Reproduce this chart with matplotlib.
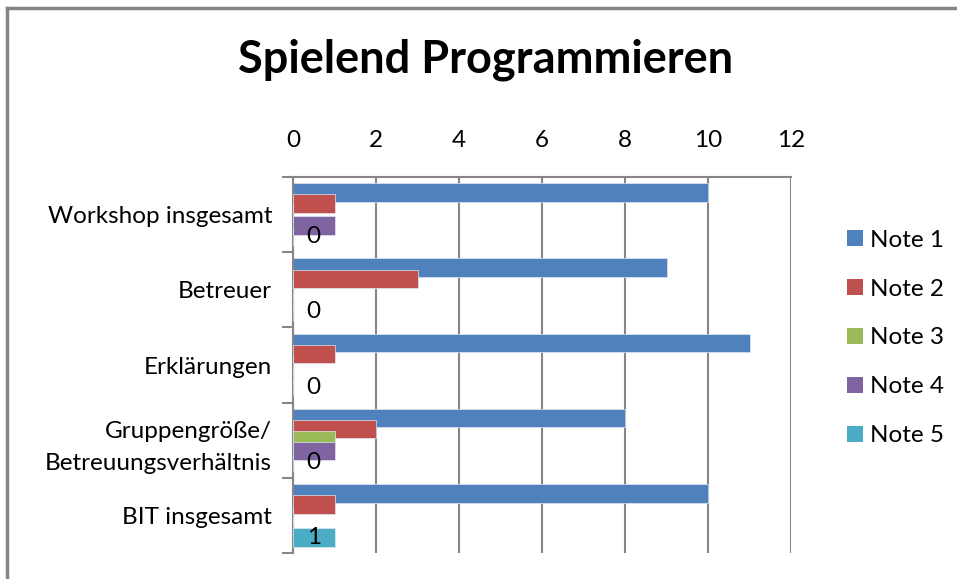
import matplotlib.pyplot as plt
from matplotlib.lines import Line2D
from matplotlib.patches import Patch

plt.rcParams['font.family'] = ['Lato', 'DejaVu Sans']

# daten
kategorien = ['Workshop insgesamt', 'Betreuer', 'Erklärungen',
              'Gruppengröße/\nBetreuungsverhältnis', 'BIT insgesamt']
serien = ['Note 1', 'Note 2', 'Note 3', 'Note 4', 'Note 5']
note1 = [10, 9, 11, 8, 10]
note2 = [1, 3, 1, 2, 1]
note3 = [0, 0, 0, 1, 0]
note4 = [1, 0, 0, 1, 0]
note5 = [0, 0, 0, 0, 1]
farben = ['#4F81BD', '#C0504D', '#9BBB59', '#8064A2', '#4BACC6']
x_ticks = [0, 2, 4, 6, 8, 10, 12]

werte = [note1, note2, note3, note4, note5]
fs = 17.5

fig = plt.figure(figsize=(9.57, 5.79), dpi=100)
ax = fig.add_axes([293/957, 1-553/579, (791-293)/957, (553-177)/579])

abstand = 0.147
hoehe = 0.245
for j, (name, vals) in enumerate(zip(serien, werte)):
    ys = [i + (j - 2) * abstand for i in range(len(kategorien))]
    ax.barh(ys, vals, height=hoehe, color=farben[j], edgecolor='#dfe6f0',
            linewidth=0.5, zorder=2 + j)

# datenbeschriftung nur fuer Note 5
for i, v in enumerate(note5):
    ax.text(max(v, 1) / 2, i + 2 * abstand, str(v), ha='center', va='center',
            fontsize=fs, zorder=10)

ax.set_xlim(0, 12)
ax.set_ylim(len(kategorien) - 0.5, -0.5)
ax.set_xticks(x_ticks)
ax.xaxis.tick_top()
ax.tick_params(axis='x', length=0, pad=19, labelsize=fs)
ax.set_yticks(range(len(kategorien)))
ax.set_yticklabels(kategorien, fontsize=fs, linespacing=1.65)
ax.tick_params(axis='y', length=0, pad=15)
# kategorie-trennstriche
ax.set_yticks([i - 0.5 for i in range(len(kategorien) + 1)], minor=True)
ax.tick_params(axis='y', which='minor', length=8, width=1.5, color='#868686')
ax.grid(axis='x', color='#868686', linewidth=1.5, zorder=0)
ax.set_axisbelow(True)
for s in ['right', 'bottom']:
    ax.spines[s].set_visible(False)
for s in ['left', 'top']:
    ax.spines[s].set_color('#868686')
    ax.spines[s].set_linewidth(1.5)

fig.suptitle('Spielend Programmieren', x=486/957, y=1-60/579, va='center',
             fontsize=32.5, fontweight='bold')

handles = [Patch(facecolor=c, edgecolor='none') for c in farben]
fig.legend(handles, serien, loc='center left', bbox_to_anchor=(847/957, 1-338/579),
           frameon=False, fontsize=fs, handlelength=0.65, handleheight=0.65,
           handletextpad=0.3, labelspacing=1.15, borderpad=0, borderaxespad=0)

# rahmen
fig.add_artist(Line2D([7/957, 7/957], [0, 1-8/579], color='#868686', linewidth=2.5,
                      transform=fig.transFigure))
fig.add_artist(Line2D([7/957, 1], [1-8/579, 1-8/579], color='#868686', linewidth=2.5,
                      transform=fig.transFigure))

fig.savefig('out.png', dpi=100)
